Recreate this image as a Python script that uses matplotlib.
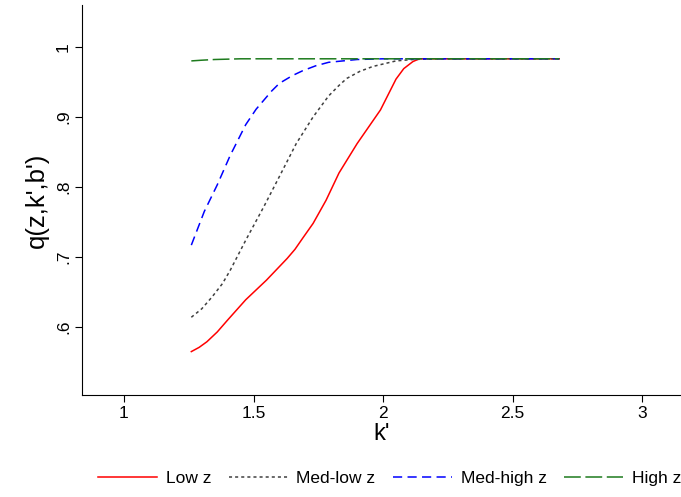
"""
Bond price schedule q(z,k',b') across productivity states.
"""

import matplotlib.pyplot as plt

plt.rcParams["font.family"] = ["Liberation Sans", "DejaVu Sans"]

# values
k_low = [1.26, 1.29, 1.32, 1.36, 1.40, 1.47, 1.55, 1.63, 1.66, 1.69, 1.73,
         1.78, 1.83, 1.90, 1.99, 2.02, 2.05, 2.08, 2.115, 2.14, 2.30, 2.50,
         2.68]
q_low = [0.565, 0.571, 0.579, 0.593, 0.610, 0.639, 0.667, 0.698, 0.711, 0.727,
         0.748, 0.781, 0.820, 0.862, 0.910, 0.932, 0.954, 0.969, 0.979, 0.983,
         0.983, 0.983, 0.983]

k_medlow = [1.26, 1.30, 1.34, 1.38, 1.41, 1.47, 1.54, 1.60, 1.665, 1.73,
            1.79, 1.83, 1.86, 1.91, 1.96, 2.05, 2.115, 2.20, 2.40, 2.68]
q_medlow = [0.614, 0.626, 0.643, 0.662, 0.681, 0.724, 0.772, 0.815, 0.862,
            0.900, 0.930, 0.945, 0.955, 0.965, 0.972, 0.980, 0.982, 0.983,
            0.983, 0.983]

k_medhigh = [1.26, 1.31, 1.36, 1.41, 1.47, 1.51, 1.54, 1.57, 1.60, 1.65,
             1.69, 1.74, 1.79, 1.90, 2.00, 2.30, 2.68]
q_medhigh = [0.717, 0.765, 0.803, 0.845, 0.889, 0.911, 0.924, 0.937, 0.948,
             0.959, 0.966, 0.973, 0.978, 0.982, 0.983, 0.983, 0.983]

k_high = [1.26, 1.30, 1.35, 1.45, 1.60, 2.00, 2.68]
q_high = [0.980, 0.981, 0.982, 0.983, 0.983, 0.983, 0.983]

labels = ["Low z", "Med-low z", "Med-high z", "High z"]
x_ticks = [1, 1.5, 2, 2.5, 3]
x_ticklabels = ["1", "1.5", "2", "2.5", "3"]
y_ticks = [0.6, 0.7, 0.8, 0.9, 1.0]
y_ticklabels = [".6", ".7", ".8", ".9", "1"]


def main():
    fig = plt.figure(figsize=(6.81, 4.97), dpi=100)
    ax = fig.add_axes([0.1204, 0.2052, 0.8796, 0.785])

    ax.plot(k_low, q_low, color="#ff0000", lw=1.1, label=labels[0])
    ax.plot(k_medlow, q_medlow, color="#404040", lw=1.1,
            dashes=(2, 2), label=labels[1])
    ax.plot(k_medhigh, q_medhigh, color="#0000ff", lw=1.1,
            dashes=(6, 3.5), label=labels[2])
    ax.plot(k_high, q_high, color="#1e7b1e", lw=1.1,
            dashes=(11, 3), label=labels[3])

    ax.set_xlim(0.838, 3.15)
    ax.set_ylim(0.503, 1.06)
    ax.set_xticks(x_ticks, x_ticklabels)
    ax.set_yticks(y_ticks, y_ticklabels)
    for lab in ax.get_yticklabels():
        lab.set_rotation(90)
        lab.set_va("center")
    ax.tick_params(axis="both", labelsize=12.5, length=5, width=0.8,
                   direction="out", pad=3)

    ax.spines["top"].set_visible(False)
    ax.spines["right"].set_visible(False)
    ax.spines["left"].set_linewidth(0.8)
    ax.spines["bottom"].set_linewidth(0.8)

    ax.set_xlabel("k'", fontsize=17, labelpad=1)
    ax.set_ylabel("q(z,k',b')", fontsize=18.5, labelpad=5)

    fig.legend(loc="center", bbox_to_anchor=(0.572, 0.038), ncol=4,
               frameon=False, fontsize=12.5, handlelength=3.4,
               handletextpad=0.5, columnspacing=1.0)

    fig.savefig("out.png", dpi=100)
    plt.close(fig)


if __name__ == "__main__":
    main()
